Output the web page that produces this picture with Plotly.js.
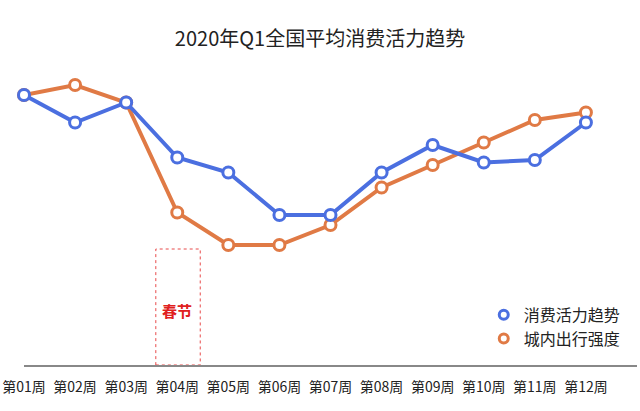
<!DOCTYPE html>
<html>
<head>
<meta charset="utf-8">
<script src="https://cdn.plot.ly/plotly-3.0.1.min.js"></script>
<style>
  html, body { margin: 0; padding: 0; background: #fff; }
  #plot { width: 640px; height: 411px; }
</style>
</head>
<body>
<div id="plot"></div>
<script>
var weeks = ['第01周', '第02周', '第03周', '第04周', '第05周', '第06周',
             '第07周', '第08周', '第09周', '第10周', '第11周', '第12周'];
var consumption = [108, 97, 105, 83, 77, 60, 60, 77, 88, 81, 82, 97];
var travel = [108, 112, 105, 61, 48, 48, 56, 71, 80, 89, 98, 101];

var blue = '#4b6fe0';
var orange = '#e07a45';
var cjk = '"Noto Sans CJK SC", "Noto Sans", sans-serif';

function lineTrace(y, color, name) {
  return {
    x: weeks, y: y, name: name, type: 'scatter', mode: 'lines+markers',
    showlegend: false, cliponaxis: false,
    line: {color: color, width: 4},
    marker: {symbol: 'circle', size: 11, color: '#fff', line: {color: color, width: 3}}
  };
}

function legendTrace(color, name) {
  return {
    x: [null], y: [null], name: name, type: 'scatter', mode: 'markers',
    marker: {symbol: 'circle', size: 9, color: '#fff', line: {color: color, width: 3}}
  };
}

var data = [
  lineTrace(travel, orange, '城内出行强度'),
  lineTrace(consumption, blue, '消费活力趋势'),
  legendTrace(blue, '消费活力趋势'),
  legendTrace(orange, '城内出行强度')
];

var layout = {
  width: 640, height: 411,
  margin: {l: 24, r: 3, t: 60, b: 46},
  paper_bgcolor: '#fff', plot_bgcolor: '#fff',
  font: {family: cjk, color: '#222'},
  title: {text: '2020年Q1全国平均消费活力趋势', font: {size: 20, color: '#222', family: cjk},
          x: 0.5, xanchor: 'center', y: 0.905, yref: 'container', yanchor: 'middle'},
  xaxis: {type: 'category', range: [0, 12], showgrid: false, zeroline: false,
          showline: true, linecolor: '#888', linewidth: 1.5,
          ticks: 'outside', ticklen: 8, tickcolor: 'rgba(0,0,0,0)',
          tickfont: {size: 14, color: '#222', family: cjk}},
  yaxis: {range: [0, 122], visible: false, fixedrange: true},
  legend: {x: 0.75, y: 0.22, xanchor: 'left', yanchor: 'top', bgcolor: 'rgba(0,0,0,0)',
           font: {size: 16, color: '#222', family: cjk}, tracegroupgap: 0},
  shapes: [{type: 'rect', xref: 'x', yref: 'y', x0: 2.58, x1: 3.45, y0: 0, y1: 46.4,
            line: {color: '#e84a4a', width: 1, dash: 'dot'}}],
  annotations: [{x: 3, y: 22, xref: 'x', yref: 'y', text: '<b>春节</b>', showarrow: false,
                 font: {size: 15, color: '#e02020', family: cjk}}]
};

Plotly.newPlot('plot', data, layout, {displayModeBar: false});
</script>
</body>
</html>
